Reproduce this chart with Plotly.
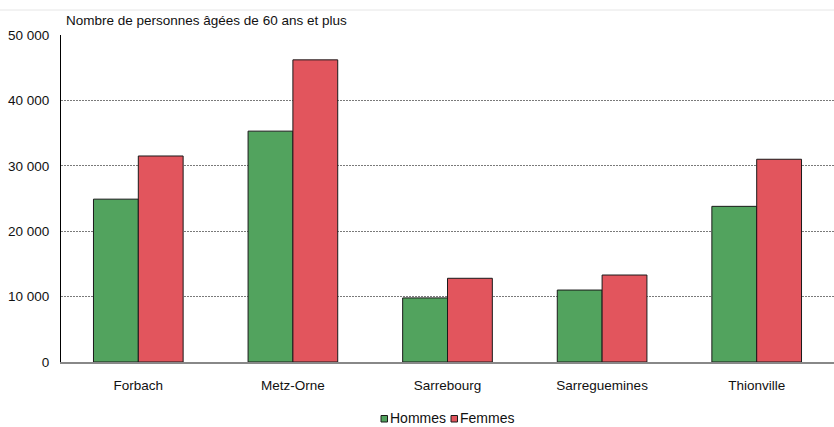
import plotly.graph_objects as go

categories = ["Forbach", "Metz-Orne", "Sarrebourg", "Sarreguemines", "Thionville"]
series_names = ["Hommes", "Femmes"]
hommes = [24900, 35300, 9800, 11000, 23800]
femmes = [31500, 46200, 12800, 13300, 31000]
y_ticks = [0, 10000, 20000, 30000, 40000, 50000]

GREEN = "#52A35E"
RED = "#E2555D"
FONT = "Liberation Sans, Arial, sans-serif"
FS = 13.5

# plot area in pixels (used to place the hand-drawn legend)
W, H = 834, 427
L, R, T, B = 61, 0, 35, 65
PW, PH = W - L - R, H - T - B


def px_x(x):
    return (x - L) / PW


def px_y(y):
    return (H - B - y) / PH


fig = go.Figure()
for name, vals, col in zip(series_names, [hommes, femmes], [GREEN, RED]):
    fig.add_bar(name=name, x=categories, y=vals,
                marker=dict(color=col, line=dict(color="#1a1a1a", width=1)))

# compact legend: small outlined squares followed by the series name
legend_shapes, legend_notes = [], []
legend_x = [381, 451]
for name, col, x0 in zip(series_names, [GREEN, RED], legend_x):
    legend_shapes.append(dict(type="rect", xref="paper", yref="paper",
                              x0=px_x(x0), x1=px_x(x0 + 6.5), y0=px_y(422), y1=px_y(415.5),
                              fillcolor=col, line=dict(color="#1a1a1a", width=1)))
    legend_notes.append(dict(text=name, xref="paper", yref="paper", x=px_x(x0 + 8), y=px_y(427),
                             xanchor="left", yanchor="bottom", showarrow=False, borderpad=0,
                             font=dict(size=14, color="#111")))

fig.update_layout(
    width=W, height=H,
    margin=dict(l=L, r=R, t=T, b=B),
    paper_bgcolor="white", plot_bgcolor="white",
    font=dict(family=FONT, size=FS, color="#111"),
    separators=", ",
    barmode="group", bargap=0.42, bargroupgap=0,
    showlegend=False,
    annotations=[dict(text="Nombre de personnes âgées de 60 ans et plus", xref="paper", yref="paper",
                      x=px_x(64), y=px_y(20), xanchor="left", yanchor="middle", showarrow=False,
                      font=dict(size=FS))] + legend_notes,
    shapes=[dict(type="line", xref="paper", yref="paper", x0=-0.08, x1=1, y0=px_y(10), y1=px_y(10),
                 line=dict(color="#e6e6e6", width=1))] + legend_shapes,
)
fig.update_yaxes(range=[0, 50000], tickvals=y_ticks, tickformat=",d", showgrid=True,
                 gridcolor="#7a7a7a", griddash="2px,1px", gridwidth=1,
                 showline=True, linecolor="black", linewidth=1,
                 ticks="outside", ticklen=8, tickcolor="rgba(0,0,0,0)",
                 zeroline=False, tickfont=dict(size=FS))
fig.update_xaxes(showline=True, linecolor="#888", linewidth=2,
                 ticks="outside", ticklen=10, tickcolor="rgba(0,0,0,0)", tickfont=dict(size=FS))

fig.write_html("out.html")
